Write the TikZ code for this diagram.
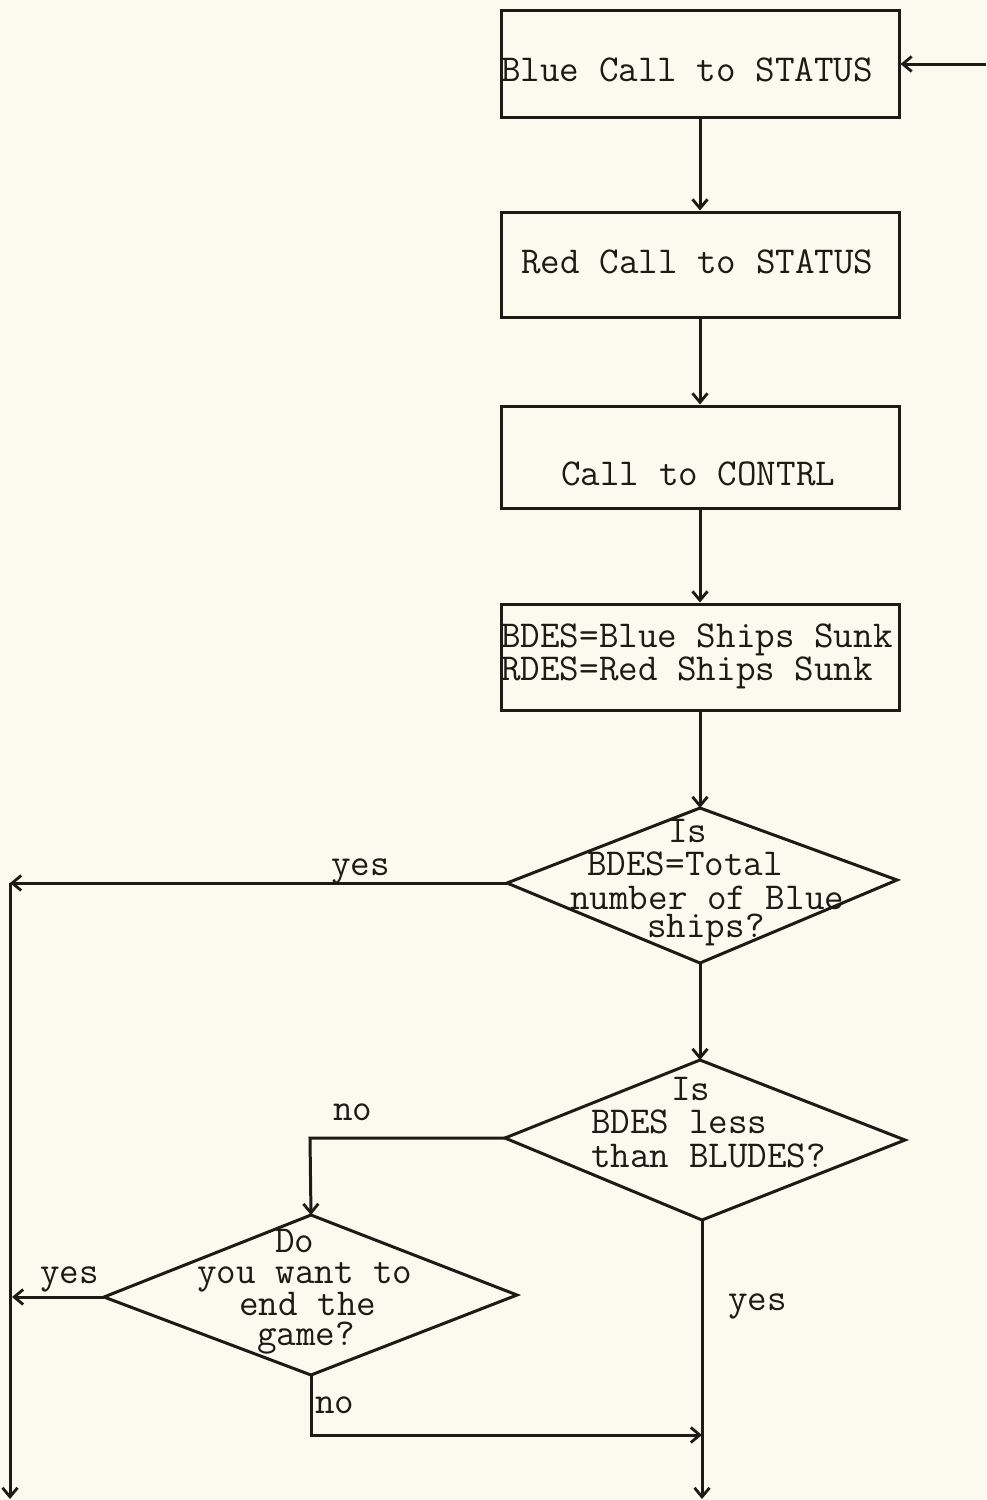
\documentclass[tikz,border=0pt]{standalone}
\usepackage{fontspec}
\usetikzlibrary{arrows.meta}
\definecolor{paper}{HTML}{FCFAEE}
\definecolor{ink}{HTML}{1E1A16}
\begin{document}
\begin{tikzpicture}[x=1pt,y=-1pt,
  txt/.style={font=\ttfamily\fontsize{38}{38}\selectfont, text=ink, inner sep=0pt, anchor=base west},
  box/.style={draw=ink, line width=3pt, minimum width=398pt, inner sep=0pt},
  flow/.style={draw=ink, line width=3pt, -{Straight Barb[length=9pt,width=15pt,line width=2.8pt]}},
  plain/.style={draw=ink, line width=3pt, line join=miter}]
\fill[paper] (0,0) rectangle (986,1500);
\useasboundingbox (0,0) rectangle (986,1500);

% boxes
\node[box, minimum height=107pt] (b1) at (700,63.5) {};
\node[txt] (t1) at (501,81) {Blue Call to STATUS};
\node[box, minimum height=105pt] (b2) at (700,264.5) {};
\node[txt] (t2) at (521,273) {Red Call to STATUS};
\node[box, minimum height=102pt] (b3) at (700,457) {};
\node[txt] (t3) at (561,485) {Call to CONTRL};
\node[box, minimum height=106pt] (b4) at (700,657) {};
\node[txt] (t4a) at (501,647) {BDES=Blue Ships Sunk};
\node[txt] (t4b) at (501,680) {RDES=Red Ships Sunk};

% diamond 1
\coordinate (d1t) at (700,808);
\coordinate (d1r) at (897,880);
\coordinate (d1b) at (700,963);
\coordinate (d1l) at (507,883);
\draw[plain] (d1t) -- (d1r) -- (d1b) -- (d1l) -- cycle;
\node[txt] (q1a) at (668,842) {Is};
\node[txt] (q1b) at (587,875) {BDES=Total};
\node[txt] (q1c) at (570,909) {number of Blue};
\node[txt] (q1d) at (647,937) {ships?};

% diamond 2
\coordinate (d2t) at (700,1060);
\coordinate (d2r) at (905,1140);
\coordinate (d2b) at (702,1220);
\coordinate (d2l) at (505,1138);
\draw[plain] (d2t) -- (d2r) -- (d2b) -- (d2l) -- cycle;
\node[txt] (q2a) at (671,1100) {Is};
\node[txt] (q2b) at (591,1133) {BDES less};
\node[txt] (q2c) at (591,1167) {than BLUDES?};

% diamond 3
\coordinate (d3t) at (311,1215);
\coordinate (d3r) at (517,1295);
\coordinate (d3b) at (311,1375);
\coordinate (d3l) at (104,1297);
\draw[plain] (d3t) -- (d3r) -- (d3b) -- (d3l) -- cycle;
\node[txt] (q3a) at (275,1252) {Do};
\node[txt] (q3b) at (197,1283) {you want to};
\node[txt] (q3c) at (239,1315) {end the};
\node[txt] (q3d) at (257,1345) {game?};

% connectors
\coordinate (in) at (986,64);
\draw[flow] (in) -- (b1.east |- in);
\draw[flow] (b1.south) -- (b2.north);
\draw[flow] (b2.south) -- (b3.north);
\draw[flow] (b3.south) -- (b4.north);
\draw[flow] (b4.south) -- (d1t);
\draw[flow] (d1b) -- (d2t);

\coordinate (lt) at (10,883);
\coordinate (lb) at (10,1499);
\draw[flow] (d1l) -- (lt);
\draw[flow] (lt) -- (lb);
\node[txt] (y1) at (331,875) {yes};

\coordinate (n1) at (310,1138);
\draw[flow] (d2l) -- (n1) -- (d3t);
\node[txt] (nl1) at (333,1120) {no};

\coordinate (l3) at (12,1297);
\draw[flow] (d3l) -- (l3);
\node[txt] (y2) at (40,1283) {yes};

\coordinate (rb) at (702,1499);
\draw[flow] (d2b) -- (rb);
\node[txt] (y3) at (728,1310) {yes};

\coordinate (n2) at (311,1435);
\coordinate (n3) at (702,1435);
\draw[flow] (d3b) -- (n2) -- (n3);
\node[txt] (nl2) at (315,1413) {no};
\end{tikzpicture}
\end{document}
